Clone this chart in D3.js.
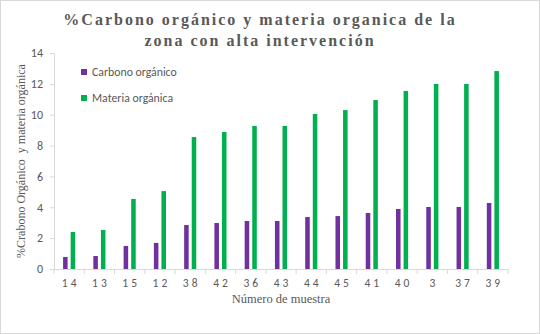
<!DOCTYPE html>
<html>
<head>
<meta charset="utf-8">
<script src="https://cdn.jsdelivr.net/npm/d3@7"></script>
<style>
  body { margin: 0; background: #fff; }
  svg { display: block; }
</style>
</head>
<body>
<div id="chart"></div>
<script>
// data
const muestras = ["14","13","15","12","38","42","36","43","44","45","41","40","3","37","39"]
const carbono = [0.78,0.84,1.49,1.69,2.85,2.98,3.11,3.11,3.37,3.43,3.63,3.89,4.02,4.02,4.28]
const materia = [2.40,2.53,4.54,5.05,8.55,8.88,9.27,9.27,10.05,10.30,10.95,11.54,11.99,11.99,12.83]
const series = ["Carbono orgánico","Materia orgánica"]
const yTicks = [0,2,4,6,8,10,12,14]

const colors = ["#7030A0","#00B050"]
const textCol = "#595959"

const w = 540, h = 334
const padL = 54, padR = 508, padT = 53, padB = 269

const svg = d3.select("#chart").append("svg")
  .attr("width", w).attr("height", h)

svg.append("rect")
  .attr("x", 0.5).attr("y", 0.5)
  .attr("width", w-1).attr("height", h-1)
  .attr("fill", "#fff").attr("stroke", "#d9d9d9")

const x = d3.scaleBand().domain(muestras).range([padL, padR]).padding(0)
const bw = x.bandwidth()
const xSub = d3.scaleBand().domain(series).range([bw*0.3, bw*0.7]).paddingInner(0.4)
const y = d3.scaleLinear().domain([0,14]).range([padB, padT])

// title
const title = svg.append("text")
  .attr("text-anchor","middle")
  .style("font-family","'Liberation Serif', 'Times New Roman', serif")
  .style("font-weight","bold")
  .style("font-size","16px")
  .style("letter-spacing","2px")
  .attr("fill", textCol)
title.append("tspan").attr("x", 260).attr("y", 25).text("%Carbono orgánico y materia organica de la")
title.append("tspan").attr("x", 260).attr("y", 46).text("zona con alta intervención")

// bars
const rows = muestras.map((m,i)=>({m, vals:[carbono[i], materia[i]]}))
const groups = svg.selectAll("g.cat").data(rows).enter().append("g")
  .attr("class","cat")
  .attr("transform", d=>`translate(${x(d.m)},0)`)
groups.selectAll("rect").data(d=>d.vals.map((v,j)=>({s:series[j], v, j})))
  .enter().append("rect")
  .attr("x", d=>xSub(d.s))
  .attr("width", xSub.bandwidth())
  .attr("y", d=>y(d.v))
  .attr("height", d=>y(0)-y(d.v))
  .attr("fill", d=>colors[d.j])

// y axis
const yAxis = d3.axisLeft(y).tickValues(yTicks).tickSize(4).tickPadding(7)
const gy = svg.append("g").attr("transform",`translate(${padL},0)`).call(yAxis)
gy.select(".domain").attr("stroke","#d9d9d9")
gy.selectAll(".tick line").attr("stroke","#d9d9d9")
gy.selectAll(".tick text")
  .attr("fill", textCol)
  .style("font-family","Carlito, 'Open Sans', 'Liberation Sans', sans-serif")
  .style("font-size","12px")

// x axis
const xAxis = d3.axisBottom(x).tickSize(0).tickPadding(10)
const gx = svg.append("g").attr("transform",`translate(0,${padB})`).call(xAxis)
gx.select(".domain").attr("stroke","#d9d9d9")
gx.selectAll(".tick text")
  .attr("fill", textCol)
  .style("font-family","Carlito, 'Open Sans', 'Liberation Sans', sans-serif")
  .style("font-size","11.5px")
  .style("letter-spacing","3px")
  .attr("dx","1.5px")
// tick marks at band boundaries
gx.selectAll("line.bound").data(d3.range(muestras.length+1)).enter().append("line")
  .attr("class","bound")
  .attr("x1", i=>padL + i*bw).attr("x2", i=>padL + i*bw)
  .attr("y1", 0).attr("y2", 5)
  .attr("stroke","#d9d9d9")

// axis titles
svg.append("text")
  .attr("transform",`translate(25,${(padT+padB)/2}) rotate(-90)`)
  .attr("text-anchor","middle")
  .style("font-family","'Liberation Serif', 'Times New Roman', serif")
  .style("font-size","12px")
  .style("white-space","pre")
  .attr("fill", textCol)
  .text("%Crabono Orgánico  y materia orgánica")

svg.append("text")
  .attr("x", 281).attr("y", 303)
  .attr("text-anchor","middle")
  .style("font-family","'Liberation Serif', 'Times New Roman', serif")
  .style("font-size","12.5px")
  .attr("fill", textCol)
  .text("Número de muestra")

// legend
const legend = svg.append("g").attr("transform","translate(84,72)")
const li = legend.selectAll("g").data(series).enter().append("g")
  .attr("transform",(d,i)=>`translate(0,${i*26})`)
li.append("rect").attr("x",-3).attr("y",-3).attr("width",6).attr("height",6)
  .attr("fill",(d,i)=>colors[i])
li.append("text").attr("x",8).attr("y",4)
  .style("font-family","Carlito, 'Open Sans', 'Liberation Sans', sans-serif")
  .style("font-size","11.8px")
  .attr("fill", textCol)
  .text(d=>d)
</script>
</body>
</html>
